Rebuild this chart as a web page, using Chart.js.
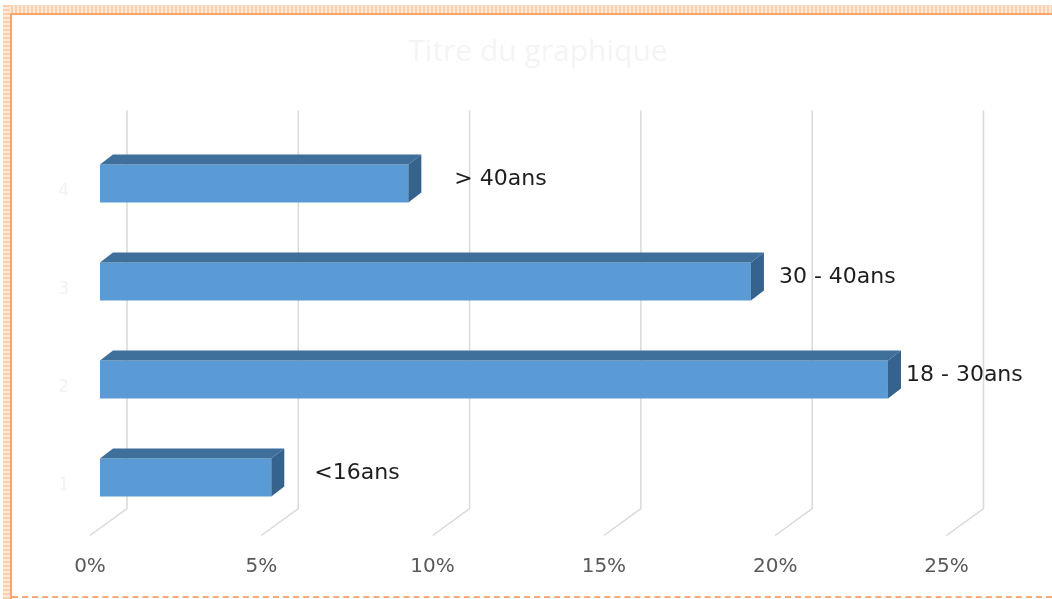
<!DOCTYPE html>
<html>
<head>
<meta charset="utf-8">
<script src="https://cdn.jsdelivr.net/npm/chart.js@4/dist/chart.umd.min.js"></script>
<style>
    body { margin: 0; background: #fff; }
    #wrap { position: relative; width: 1052px; height: 599px; overflow: hidden; background: #fff; }
    #wrap div { position: absolute; }
    .bandH { left: 3px; top: 5px; width: 1049px; height: 8px; background: repeating-linear-gradient(90deg, #fbcfae 0 2px, #fee9da 2px 4px); }
    .bandV { left: 3px; top: 5px; width: 7px; height: 594px; background: repeating-linear-gradient(0deg, #fbcfae 0 2px, #fee9da 2px 4px); }
    .lineH { left: 10px; top: 13px; width: 1042px; height: 2px; background: #f8a46a; }
    .lineV { left: 10px; top: 13px; width: 2px; height: 586px; background: #f8a46a; }
    .lineB { left: 12px; top: 596px; width: 1040px; height: 0; border-top: 2px dashed #f8ab78; }
    canvas { position: absolute; left: 0; top: 0; }
</style>
</head>
<body>
<div id="wrap">
    <div class="bandH"></div>
    <div class="bandV"></div>
    <div class="lineH"></div>
    <div class="lineV"></div>
    <div class="lineB"></div>
    <canvas id="myChart" width="1052" height="599"></canvas>
</div>
<script>
// données
var categories = ['1', '2', '3', '4'];
var values = [5, 23, 19, 9];
var barLabels = ['<16ans', '18 - 30ans', '30 - 40ans', '> 40ans'];
var xTicks = [0, 5, 10, 15, 20, 25];
var chartTitle = 'Titre du graphique';

// effet 3D : mur du fond + sol, puis faces des barres
var depthPlugin = {
    id: 'depth',
    beforeDatasetsDraw: function (chart) {
        var ctx = chart.ctx;
        var area = chart.chartArea;
        var xs = chart.scales.x;
        ctx.save();
        ctx.strokeStyle = '#d9d9d9';
        ctx.lineWidth = 1.5;
        xTicks.forEach(function (v) {
            var px = xs.getPixelForValue(v);
            ctx.beginPath();
            ctx.moveTo(px + 27, area.top - 24);
            ctx.lineTo(px + 27, area.bottom - 18);
            ctx.lineTo(px - 10, area.bottom + 9);
            ctx.stroke();
        });
        ctx.restore();
    },
    afterDatasetsDraw: function (chart) {
        var ctx = chart.ctx;
        var meta = chart.getDatasetMeta(0);
        var dx = 13, dy = 10;
        ctx.save();
        meta.data.forEach(function (bar, i) {
            var p = bar.getProps(['x', 'y', 'base', 'height'], true);
            var top = p.y - p.height / 2;
            var bottom = p.y + p.height / 2;
            // face du dessus
            ctx.fillStyle = '#3f6f9b';
            ctx.beginPath();
            ctx.moveTo(p.base, top);
            ctx.lineTo(p.x, top);
            ctx.lineTo(p.x + dx, top - dy);
            ctx.lineTo(p.base + dx, top - dy);
            ctx.closePath();
            ctx.fill();
            // face de côté
            ctx.fillStyle = '#36638d';
            ctx.beginPath();
            ctx.moveTo(p.x, top);
            ctx.lineTo(p.x + dx, top - dy);
            ctx.lineTo(p.x + dx, bottom - dy);
            ctx.lineTo(p.x, bottom);
            ctx.closePath();
            ctx.fill();

            // étiquettes
            var gaps = chart.options.plugins.depth.gaps;
            ctx.fillStyle = '#1e1e1e';
            ctx.font = '22px "DejaVu Sans"';
            ctx.textAlign = 'left';
            ctx.textBaseline = 'middle';
            ctx.fillText(barLabels[i], p.x + gaps[i], p.y - 4);
        });
        ctx.restore();
    },
    afterDraw: function (chart) {
        var ctx = chart.ctx;
        ctx.save();
        ctx.fillStyle = '#f4f4f4';
        ctx.font = '30px "Open Sans"';
        ctx.textAlign = 'center';
        ctx.textBaseline = 'middle';
        ctx.fillText(chartTitle, 538, 52);
        ctx.restore();
    }
};

document.addEventListener('DOMContentLoaded', function () {
    var ctx = document.getElementById('myChart').getContext('2d');
    new Chart(ctx, {
        type: 'bar',
        data: {
            labels: categories,
            datasets: [{
                data: values,
                backgroundColor: '#5b9bd5',
                borderWidth: 0,
                barPercentage: 0.39,
                categoryPercentage: 1
            }]
        },
        plugins: [depthPlugin],
        options: {
            indexAxis: 'y',
            responsive: false,
            animation: false,
            layout: {
                padding: { top: 134.5, right: 95.5, bottom: 0, left: 0 }
            },
            scales: {
                x: {
                    min: 0,
                    max: 25,
                    grid: { display: false, drawTicks: false },
                    border: { display: false },
                    afterFit: function (scale) { scale.height = 72.5; },
                    ticks: {
                        stepSize: 5,
                        padding: 28,
                        labelOffset: -10,
                        color: '#595959',
                        font: { family: 'DejaVu Sans', size: 20 },
                        callback: function (v) { return v + '%'; }
                    }
                },
                y: {
                    reverse: true,
                    grid: { display: false, drawTicks: false },
                    border: { display: false },
                    afterFit: function (scale) { scale.width = 100; },
                    ticks: {
                        padding: 31,
                        labelOffset: 8,
                        color: '#f2f2f2',
                        font: { family: 'DejaVu Sans', size: 17 }
                    }
                }
            },
            plugins: {
                legend: { display: false },
                tooltip: { enabled: false },
                title: { display: false },
                depth: { gaps: [43, 18, 28, 46] }
            }
        }
    });
});
</script>
</body>
</html>
